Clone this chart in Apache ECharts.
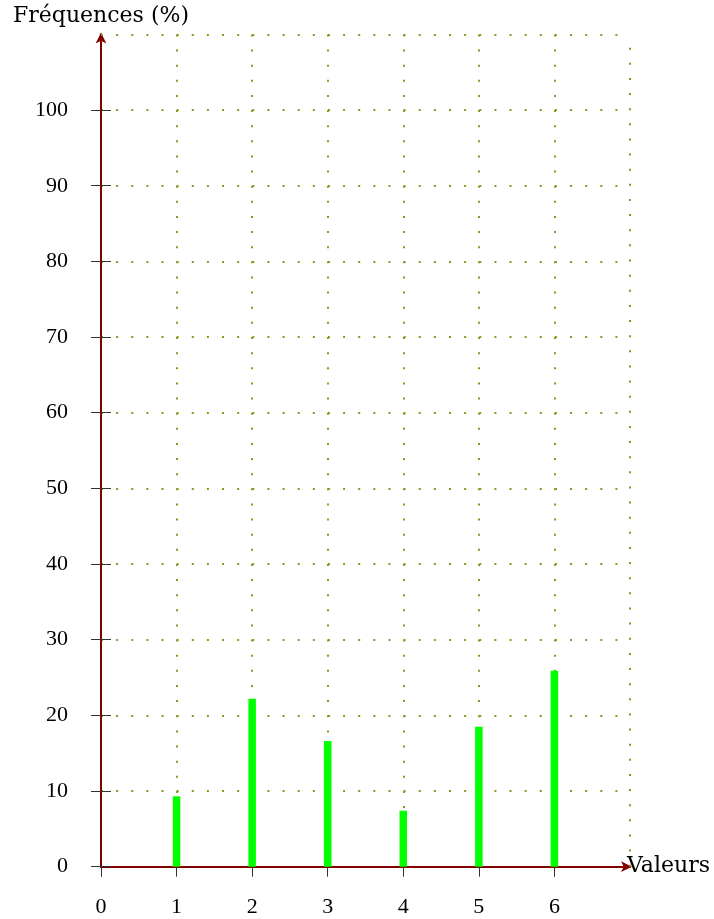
<!DOCTYPE html>
<html>
<head>
<meta charset="utf-8">
<script src="https://cdn.jsdelivr.net/npm/echarts@6/dist/echarts.min.js"></script>
<style>html,body{margin:0;padding:0;background:#fff}#c{width:714px;height:919px}</style>
</head>
<body>
<div id="c"></div>
<script>
const categories = [1, 2, 3, 4, 5, 6];
const frequencies = [9.3, 22.2, 16.6, 7.4, 18.5, 25.9];
const xTickLabels = [0, 1, 2, 3, 4, 5, 6];
const yTickLabels = [0, 10, 20, 30, 40, 50, 60, 70, 80, 90, 100];
const xMax = 7;
const yMax = 110;

const FONT = 'Liberation Serif';
const NAME_FONT = 'DejaVu Serif';
const chart = echarts.init(document.getElementById('c'), null, {renderer: 'canvas'});
const dotted = {color: '#949420', width: 2, type: [2, 13.13]};
chart.setOption({
  animation: false,
  backgroundColor: '#fff',
  grid: {left: 101, right: 84, top: 34.4, bottom: 52.3, containLabel: false},
  xAxis: {
    type: 'value', min: 0, max: xMax, interval: 1,
    name: 'Valeurs', nameLocation: 'end', nameGap: -3,
    nameTextStyle: {fontFamily: NAME_FONT, fontSize: 22, color: '#000', align: 'left', verticalAlign: 'middle'},
    axisLine: {show: true, onZero: false, symbol: ['none', 'arrow'], symbolSize: [8, 11], symbolOffset: [0, 2],
      lineStyle: {color: '#800000', width: 2}},
    axisTick: {show: true, length: 10, customValues: xTickLabels, lineStyle: {color: '#333', width: 1}},
    axisLabel: {customValues: xTickLabels, fontFamily: FONT, fontSize: 22, color: '#000', margin: 30},
    splitLine: {show: true, lineStyle: dotted}
  },
  yAxis: [{
    type: 'value', min: 0, max: yMax, interval: 10,
    name: 'Fréquences (%)', nameLocation: 'end', nameGap: 7,
    nameTextStyle: {fontFamily: NAME_FONT, fontSize: 22, color: '#000', align: 'center', verticalAlign: 'bottom'},
    axisLine: {show: true, onZero: false, symbol: ['none', 'arrow'], symbolSize: [8, 11], symbolOffset: [0, 2],
      lineStyle: {color: '#800000', width: 2}},
    axisTick: {show: true, length: 10, customValues: yTickLabels, lineStyle: {color: '#333', width: 1}},
    axisLabel: {customValues: yTickLabels, fontFamily: FONT, fontSize: 22, color: '#000', margin: 33},
    splitLine: {show: true, lineStyle: dotted}
  }, {
    type: 'value', min: 0, max: yMax, interval: 10, position: 'left',
    axisLine: {show: false},
    axisTick: {show: true, inside: true, length: 10, customValues: yTickLabels, lineStyle: {color: '#333', width: 1}},
    axisLabel: {show: false},
    splitLine: {show: false}
  }],
  series: [{
    type: 'bar',
    data: categories.map((c, i) => [c, frequencies[i]]),
    barWidth: 7.5,
    itemStyle: {color: '#00ff00'},
    z: 5,
    markLine: {
      silent: true,
      z: 1,
      symbol: ['none', 'none'],
      label: {show: false},
      lineStyle: dotted,
      emphasis: {disabled: true},
      data: [{xAxis: xMax}, {yAxis: yMax}]
    }
  }]
});
</script>
</body>
</html>
